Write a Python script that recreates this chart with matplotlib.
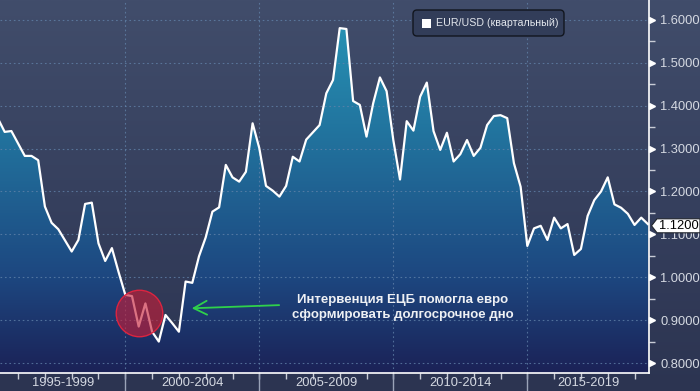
import numpy as np
import matplotlib
matplotlib.use('Agg')
import matplotlib.pyplot as plt
from matplotlib.colors import LinearSegmentedColormap
from matplotlib.patches import Polygon, FancyBboxPatch, Rectangle
import matplotlib.transforms as mtransforms

plt.rcParams['font.family'] = ['Liberation Sans', 'DejaVu Sans']

# ---------------- data ----------------
start_year = 1995.25  # first quarterly observation
eurusd = [1.370, 1.339, 1.341, 1.312, 1.283, 1.283, 1.273, 1.165, 1.127, 1.112,
          1.086, 1.060, 1.087, 1.171, 1.174, 1.079, 1.038, 1.068, 1.012, 0.959,
          0.956, 0.885, 0.939, 0.873, 0.850, 0.912, 0.893, 0.873, 0.990, 0.987,
          1.049, 1.093, 1.153, 1.163, 1.262, 1.233, 1.223, 1.246, 1.359, 1.301,
          1.213, 1.202, 1.188, 1.213, 1.281, 1.270, 1.321, 1.338, 1.355, 1.429,
          1.460, 1.581, 1.579, 1.411, 1.402, 1.328, 1.406, 1.466, 1.434, 1.320,
          1.228, 1.364, 1.342, 1.421, 1.454, 1.341, 1.297, 1.337, 1.270, 1.287,
          1.320, 1.283, 1.302, 1.355, 1.376, 1.378, 1.371, 1.266, 1.211, 1.073,
          1.114, 1.120, 1.087, 1.139, 1.114, 1.124, 1.052, 1.066, 1.143, 1.180,
          1.200, 1.233, 1.170, 1.162, 1.148, 1.122, 1.139, 1.124]
period_labels = ['1995-1999', '2000-2004', '2005-2009', '2010-2014', '2015-2019']
period_bounds = [1995, 2000, 2005, 2010, 2015, 2020]
y_ticks = [0.8, 0.9, 1.0, 1.1, 1.2, 1.3, 1.4, 1.5, 1.6]
last_label = 1.12
legend_text = 'EUR/USD (квартальный)'
note_text = 'Интервенция ЕЦБ помогла евро\nсформировать долгосрочное дно'

dates = start_year + np.arange(len(eurusd)) / 4.0
vals = np.array(eurusd)

W, H = 700, 391
fig = plt.figure(figsize=(7, 3.91), dpi=100)

# background gradient
bg = fig.add_axes([0, 0, 1, 1], zorder=0)
bg.axis('off')
bg_cmap = LinearSegmentedColormap.from_list('bg', ['#2c3451', '#36405e', '#414d6b'])
bg.imshow(np.linspace(0, 1, 256).reshape(-1, 1), cmap=bg_cmap, aspect='auto',
          origin='lower', extent=[0, 1, 0, 1])

ax = fig.add_axes([0, 18 / H, 649 / W, 373 / H], zorder=1)
ax.patch.set_visible(False)
x0, x1 = 1995.325, 2019.54
y0, y1 = 0.7767, 1.6466
ax.set_xlim(x0, x1)
ax.set_ylim(y0, y1)

# gradient fill under curve
fill_cmap = LinearSegmentedColormap.from_list(
    'fill', [(0.0, '#1b2257'), (0.257, '#1d4780'), (0.602, '#216f9b'), (1.0, '#2798b8')])
im = ax.imshow(np.linspace(0, 1, 256).reshape(-1, 1), cmap=fill_cmap, aspect='auto',
               origin='lower', extent=[x0, x1, y0, y1], zorder=2)
poly_xy = np.vstack([np.column_stack([dates, vals]),
                     [[dates[-1], y0], [dates[0], y0]]])
clip = Polygon(poly_xy, closed=True, transform=ax.transData, facecolor='none', edgecolor='none')
ax.add_patch(clip)
im.set_clip_path(clip)

# grid
for yv in y_ticks:
    ax.axhline(yv, color='#6384ab', lw=0.8, ls=(0, (1.5, 2.5)), alpha=0.75, zorder=3)
for xv in period_bounds[1:-1]:
    ax.axvline(xv, color='#6384ab', lw=0.8, ls=(0, (1.5, 2.5)), alpha=0.75, zorder=3)

# line
ax.plot(dates, vals, color='white', lw=1.6, zorder=5)

# spines
for s in ['left', 'top']:
    ax.spines[s].set_visible(False)
ax.spines['bottom'].set_color('white')
ax.spines['right'].set_color('white')
ax.spines['bottom'].set_linewidth(1.2)
ax.spines['right'].set_linewidth(1.2)
ax.spines['bottom'].set_zorder(6)
ax.spines['right'].set_zorder(6)

# right y axis
ax.yaxis.tick_right()
ax.set_yticks(y_ticks)
ax.set_yticklabels([f'{v:.4f}' for v in y_ticks])
ax.set_yticks([v + 0.05 for v in y_ticks[:-1]], minor=True)
ax.tick_params(axis='y', which='major', length=0, pad=8, labelsize=9.3, labelcolor='#d5d9e2')
ax.tick_params(axis='y', which='minor', length=4, width=1, color='#c8ccd6', direction='out')
trans_y = mtransforms.blended_transform_factory(ax.transAxes, ax.transData)
tri_trans = mtransforms.offset_copy(trans_y, fig=fig, x=3.0, y=0, units='dots')
ax.plot([1.0] * len(y_ticks), y_ticks, ls='none', marker='>', ms=4.5, color='white',
        mec='white', transform=tri_trans, clip_on=False, zorder=7)

# bottom x axis
ax.set_xticks([])
ax.set_xticks(np.arange(1996, 2020), minor=True)
ax.tick_params(axis='x', which='minor', length=4, width=1, color='#c8ccd6', direction='out')
trans_x = mtransforms.blended_transform_factory(ax.transData, ax.transAxes)
for xv in period_bounds[1:-1]:
    ax.plot([xv, xv], [0, -18 / 373], color='#9aa3b8', lw=1, transform=trans_x, clip_on=False)
for lab, a, b in zip(period_labels, period_bounds[:-1], period_bounds[1:]):
    c = (max(a, x0) + min(b, x1)) / 2
    ax.text(c, -10 / 373, lab, transform=trans_x, ha='center', va='center',
            fontsize=9.3, color='#d5d9e2')

# annotation: circle, arrow, text
ax.plot([2000.51], [0.917], marker='o', ms=33.5, mfc=(0.78, 0.11, 0.21, 0.62),
        mec='#dc2440', mew=1.0, zorder=6)
ax.annotate('', xy=(2002.48, 0.9276), xytext=(2005.74, 0.935),
            arrowprops=dict(arrowstyle='->,head_length=0.95,head_width=0.5',
                            color='#2fd14b', lw=1.3, mutation_scale=10, shrinkA=0, shrinkB=0),
            zorder=7)
ax.text(2010.36, 0.9295, note_text, ha='center', va='center', fontsize=9.5,
        fontweight='bold', color='#eef0f4', linespacing=1.3, zorder=7)

# legend
ident = mtransforms.IdentityTransform()
fig.add_artist(FancyBboxPatch((413, H - 36), 151, 26, boxstyle='round,pad=0,rounding_size=4',
                              fc='#323d59', ec='#12161f', lw=1, transform=ident, zorder=8))
fig.add_artist(Rectangle((421.5, H - 27.5), 9, 9, fc='white', ec='none', transform=ident, zorder=9))
fig.text(436, H - 23, legend_text, transform=ident, va='center', ha='left',
         fontsize=7.7, color='#e2e6ec', zorder=9)

# last value label
yc = ax.transData.transform((x1, last_label))[1]
lab_poly = Polygon([(651.5, yc), (657, yc + 7), (700, yc + 7), (700, yc - 7), (657, yc - 7)],
                   closed=True, fc='white', ec='#20242c', lw=0.8, transform=ident, zorder=10)
fig.add_artist(lab_poly)
fig.text(659, yc, f'{last_label:.4f}', transform=ident, va='center', ha='left',
         fontsize=9.3, color='black', zorder=11)

fig.savefig('out.png', dpi=100)
